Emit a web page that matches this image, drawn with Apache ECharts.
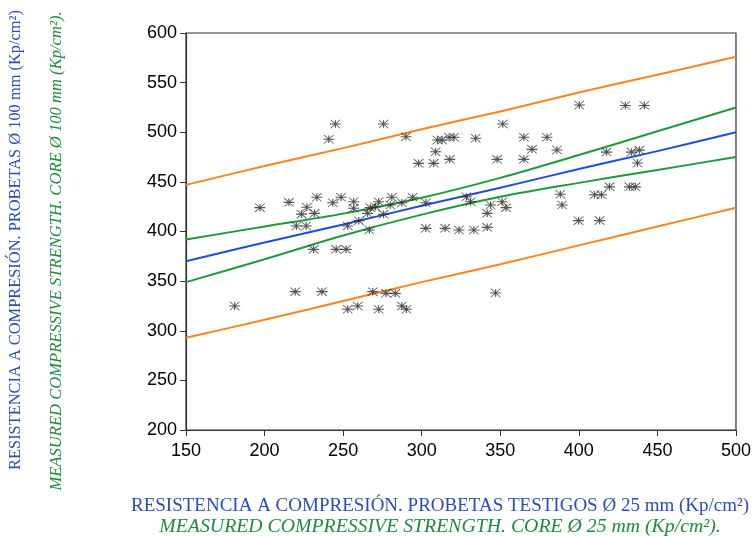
<!DOCTYPE html>
<html>
<head>
<meta charset="utf-8">
<script src="https://cdn.jsdelivr.net/npm/echarts@6/dist/echarts.min.js"></script>
<style>
html,body{margin:0;padding:0;background:#ffffff;}
#chart{width:754px;height:536px;}
</style>
</head>
<body>
<div id="chart"></div>
<script>
// Scatter points (x = core Ø25 strength, y = core Ø100 strength)
var pointX = [181, 197, 215.5, 223.5, 220.2, 226.5, 233.3, 226.9, 231.8, 240.9, 245.1, 275.7, 243.4, 248.7,
  256.7, 256.7, 265.6, 267.3, 270.5, 272.6, 275.7, 281, 280, 287.4, 294.2, 302.6, 290, 310, 313, 308.8,
  298, 307.6, 252.9, 260, 266.7, 302.6, 231.2, 245.6, 251.9, 219.5, 236.5, 268.8, 277.3, 283.2,
  252.9, 259.3, 272.6, 287.4, 290.3, 400.3, 351.6, 317.4, 320.6, 334.3, 365, 379.7, 370.2, 386.1,
  317.8, 348, 365, 328.4, 331.1, 343.8, 351.2, 353.7, 341.7, 388.2, 389.3, 399.8, 314.9, 323.7,
  333.2, 341.7, 347, 429.6, 441.7, 417.6, 433.5, 438.5, 437.3, 419.5, 432.2, 436, 410, 414.4, 413.2];
var pointY = [325, 424, 429.4, 417.5, 405.5, 405.5, 434.5, 424.4, 418.3, 492.9, 508.3, 508.3, 429, 434.5,
  430, 423.4, 418.3, 424, 425, 430, 417.3, 434.5, 426.7, 429, 434.5, 429, 495.5, 492.2, 492.2, 480.4,
  468.7, 468.7, 405.5, 410.9, 401.5, 403.2, 382, 382, 382, 339.4, 339.4, 339.4, 337.7, 337.7,
  321.6, 325, 321.6, 325, 321.6, 527.5, 508.3, 494.9, 494.9, 493.9, 494.9, 494.9, 482.8, 482.1,
  472.7, 472.7, 472.7, 435, 430, 426.7, 430, 424, 418.3, 437.5, 426.7, 410.9, 403.2, 401.5,
  401.5, 404.2, 338, 527, 527, 480, 480, 482, 469, 445, 445, 445, 437, 437, 411];

// Curves at these x positions
var curveX = [150, 200, 250, 300, 350, 400, 450, 500];
var regression = [370, 389, 407, 426, 444, 463, 481, 500];
var confUpper = [392, 405, 418, 434, 454, 477, 501, 525];
var confLower = [349, 372, 396, 417, 435, 449, 462, 475];
var predUpper = [447, 466, 484, 503, 521, 540, 558, 576];
var predLower = [293, 311, 330, 349, 367, 386, 405, 424];

// Axis ticks
var xTicks = [150, 200, 250, 300, 350, 400, 450, 500];
var yTicks = [200, 250, 300, 350, 400, 450, 500, 550, 600];

var titleXBlue = 'RESISTENCIA A COMPRESIÓN. PROBETAS TESTIGOS Ø 25 mm (Kp/cm²)';
var titleXGreen = 'MEASURED COMPRESSIVE STRENGTH. CORE Ø 25 mm (Kp/cm²).';
var titleYBlue = 'RESISTENCIA A COMPRESIÓN. PROBETAS Ø 100 mm (Kp/cm²)';
var titleYGreen = 'MEASURED COMPRESSIVE STRENGTH. CORE Ø 100 mm (Kp/cm²).';

function pairs(xs, ys) { return xs.map(function (x, i) { return [x, ys[i]]; }); }

var asterisk = 'path://M0,4.4L11,4.4L11,5.6L0,5.6Z M4.9,1L6.1,1L6.1,9L4.9,9Z M1,0.2L10.6,9.2L10,9.8L0.4,0.8Z M10,0.2L10.6,0.8L1,9.8L0.4,9.2Z';

var chart = echarts.init(document.getElementById('chart'), null, {renderer: 'canvas'});

function lineSeries(data, color) {
  return {
    type: 'line', data: data, smooth: 0.3, symbol: 'none', silent: true,
    lineStyle: {color: color, width: 2}, z: 2
  };
}

var axisLabelStyle = {color: '#000000', fontSize: 18, fontFamily: 'Liberation Sans, Arial, sans-serif'};
var serif = 'Liberation Serif, Times New Roman, serif';

chart.setOption({
  backgroundColor: '#ffffff',
  animation: false,
  grid: {left: 186, right: 16, top: 33, bottom: 106, show: true, borderColor: '#333', borderWidth: 1.2, backgroundColor: '#ffffff'},
  xAxis: {
    type: 'value', min: xTicks[0], max: xTicks[xTicks.length - 1], interval: 50,
    axisLine: {show: true, lineStyle: {color: '#333', width: 1.2}},
    axisTick: {show: true, length: 6, lineStyle: {color: '#333'}},
    axisLabel: Object.assign({margin: 12}, axisLabelStyle),
    splitLine: {show: false}
  },
  yAxis: {
    type: 'value', min: yTicks[0], max: yTicks[yTicks.length - 1], interval: 50,
    axisLine: {show: true, lineStyle: {color: '#333', width: 1.2}},
    axisTick: {show: true, length: 6, lineStyle: {color: '#333'}},
    axisLabel: Object.assign({margin: 9}, axisLabelStyle),
    splitLine: {show: false}
  },
  series: [
    lineSeries(pairs(curveX, predUpper), '#F7851F'),
    lineSeries(pairs(curveX, predLower), '#F7851F'),
    lineSeries(pairs(curveX, confUpper), '#1C9A3C'),
    lineSeries(pairs(curveX, confLower), '#1C9A3C'),
    lineSeries(pairs(curveX, regression), '#1D4FD8'),
    {
      type: 'scatter', data: pairs(pointX, pointY), symbol: asterisk, symbolSize: [11, 9],
      itemStyle: {color: '#2a2a2a'}, z: 3
    }
  ],
  graphic: [
    {type: 'text', x: 440, y: 506, style: {text: titleXBlue, fill: '#2B4DB8', fontSize: 19, fontFamily: serif, align: 'center', verticalAlign: 'middle'}},
    {type: 'text', x: 440, y: 527, style: {text: titleXGreen, fill: '#1E8B3A', fontSize: 19.8, fontStyle: 'italic', fontFamily: serif, align: 'center', verticalAlign: 'middle'}},
    {type: 'text', x: 16, y: 240, rotation: Math.PI / 2, style: {text: titleYBlue, fill: '#2B4DB8', fontSize: 16.4, fontFamily: serif, align: 'center', verticalAlign: 'middle'}},
    {type: 'text', x: 57, y: 251, rotation: Math.PI / 2, style: {text: titleYGreen, fill: '#1E8B3A', fontSize: 16.6, fontStyle: 'italic', fontFamily: serif, align: 'center', verticalAlign: 'middle'}}
  ]
});
</script>
</body>
</html>
